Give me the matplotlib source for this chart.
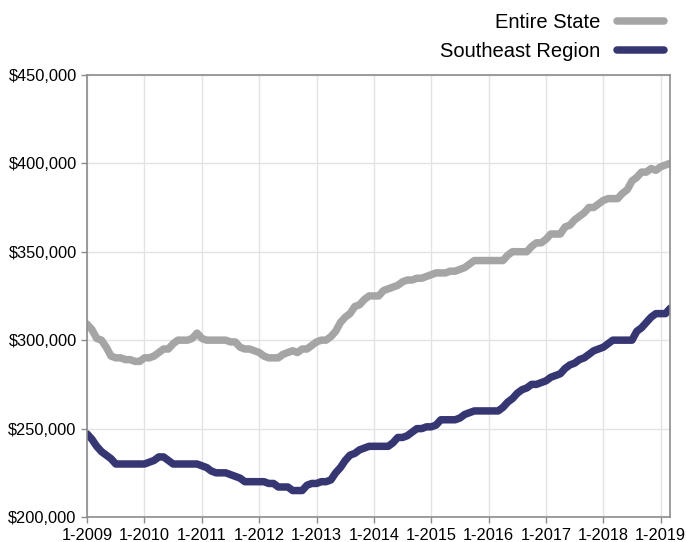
import matplotlib.pyplot as plt
import numpy as np

plt.rcParams['font.family'] = ['Liberation Sans', 'DejaVu Sans']

# monthly median values (thousands of $), Jan 2009 - Mar 2019
entire_state = [
    309, 306, 301, 300, 296, 291, 290, 290, 289, 289, 288, 288,  # 2009
    290, 290, 291, 293, 295, 295, 298, 300, 300, 300, 301, 304,  # 2010
    301, 300, 300, 300, 300, 300, 299, 299, 296, 295, 295, 294,  # 2011
    293, 291, 290, 290, 290, 292, 293, 294, 293, 295, 295, 297,  # 2012
    299, 300, 300, 302, 305, 310, 313, 315, 319, 320, 323, 325,  # 2013
    325, 325, 328, 329, 330, 331, 333, 334, 334, 335, 335, 336,  # 2014
    337, 338, 338, 338, 339, 339, 340, 341, 343, 345, 345, 345,  # 2015
    345, 345, 345, 345, 348, 350, 350, 350, 350, 353, 355, 355,  # 2016
    357, 360, 360, 360, 364, 365, 368, 370, 372, 375, 375, 377,  # 2017
    379, 380, 380, 380, 383, 385, 390, 392, 395, 395, 397, 396,  # 2018
    398, 399, 400,                                                # 2019
]
southeast = [
    247, 244, 240, 237, 235, 233, 230, 230, 230, 230, 230, 230,  # 2009
    230, 231, 232, 234, 234, 232, 230, 230, 230, 230, 230, 230,  # 2010
    229, 228, 226, 225, 225, 225, 224, 223, 222, 220, 220, 220,  # 2011
    220, 220, 219, 219, 217, 217, 217, 215, 215, 215, 218, 219,  # 2012
    219, 220, 220, 221, 225, 228, 232, 235, 236, 238, 239, 240,  # 2013
    240, 240, 240, 240, 242, 245, 245, 246, 248, 250, 250, 251,  # 2014
    251, 252, 255, 255, 255, 255, 256, 258, 259, 260, 260, 260,  # 2015
    260, 260, 260, 262, 265, 267, 270, 272, 273, 275, 275, 276,  # 2016
    277, 279, 280, 281, 284, 286, 287, 289, 290, 292, 294, 295,  # 2017
    296, 298, 300, 300, 300, 300, 300, 305, 307, 310, 313, 315,  # 2018
    315, 315, 318,                                                # 2019
]
years = list(range(2009, 2020))
tick_labels = [f'1-{y}' for y in years]
y_ticks = [200000, 250000, 300000, 350000, 400000, 450000]

months = np.arange(len(entire_state))
state_vals = np.array(entire_state) * 1000
se_vals = np.array(southeast) * 1000

fig = plt.figure(figsize=(6.86, 5.42), dpi=100)
ax = fig.add_axes([0.127, 0.046, 0.85, 0.816])

ax.plot(months, state_vals, color='#a5a5a5', lw=5.4, label='Entire State',
        solid_capstyle='round', solid_joinstyle='round')
ax.plot(months, se_vals, color='#363673', lw=5.4, label='Southeast Region',
        solid_capstyle='round', solid_joinstyle='round')

ax.set_xlim(0, len(entire_state) - 1)
ax.set_ylim(200000, 450000)
ax.set_xticks(np.arange(len(years)) * 12)
ax.set_xticklabels(tick_labels)
ax.set_yticks(y_ticks)
ax.set_yticklabels([f'${v:,}' for v in y_ticks])

ax.grid(True, color='#e3e3e3', lw=1)
ax.set_axisbelow(True)
for s in ax.spines.values():
    s.set_color('#8c8c8c')
    s.set_linewidth(1.2)
ax.tick_params(colors='#8c8c8c', labelcolor='black', labelsize=11.8,
               length=4, width=1)
ax.tick_params(axis='x', pad=4)

ax.legend(loc='upper right', bbox_to_anchor=(0.994, 1.01),
          bbox_transform=fig.transFigure, frameon=False, markerfirst=False,
          fontsize=14.5, handlelength=2.3, handletextpad=0.85,
          labelspacing=0.5)

fig.savefig('out.png', dpi=100)
